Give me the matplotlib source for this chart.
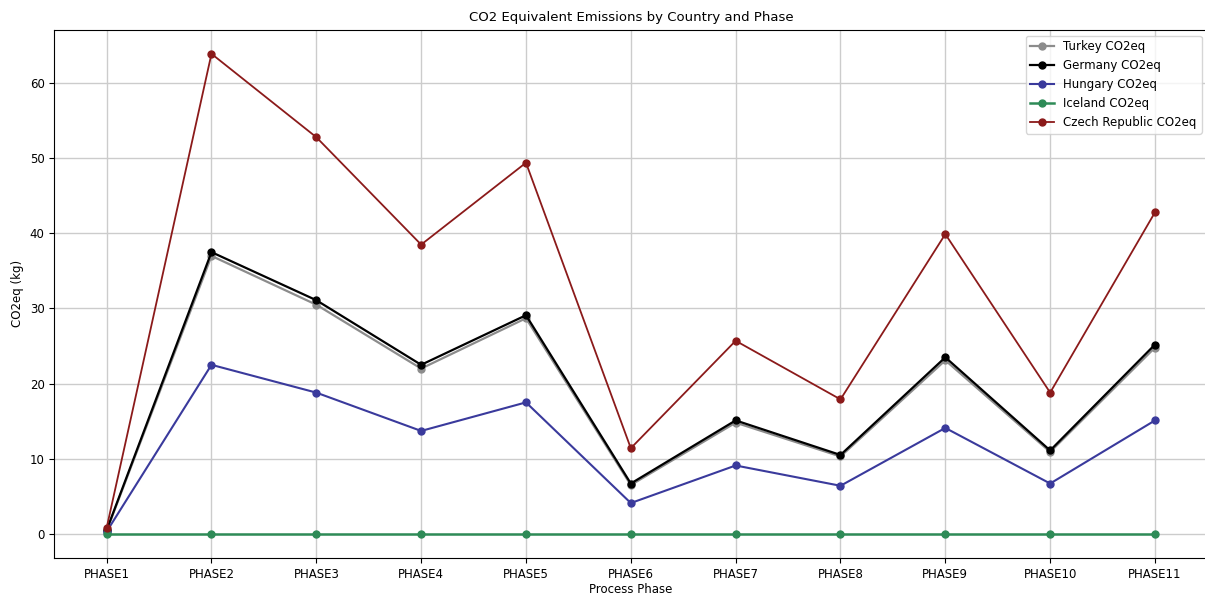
import matplotlib.pyplot as plt

# Data
phases = ['PHASE1', 'PHASE2', 'PHASE3', 'PHASE4', 'PHASE5', 'PHASE6',
          'PHASE7', 'PHASE8', 'PHASE9', 'PHASE10', 'PHASE11']
turkey = [0.4, 37.0, 30.5, 22.0, 28.7, 6.5, 14.8, 10.3, 23.1, 10.9, 24.8]
germany = [0.5, 37.5, 31.1, 22.5, 29.1, 6.7, 15.1, 10.5, 23.5, 11.1, 25.2]
hungary = [0.3, 22.5, 18.8, 13.7, 17.5, 4.1, 9.1, 6.4, 14.1, 6.7, 15.1]
iceland = [0.0, 0.0, 0.0, 0.0, 0.0, 0.0, 0.0, 0.0, 0.0, 0.0, 0.0]
czech = [0.8, 63.9, 52.8, 38.5, 49.4, 11.4, 25.7, 17.9, 39.9, 18.8, 42.8]

fig, ax = plt.subplots(figsize=(12.05, 5.96), dpi=100)

ax.plot(phases, turkey, marker='o', color='#8c8c8c', lw=1.6, ms=5, label='Turkey CO2eq')
ax.plot(phases, germany, marker='o', color='black', lw=1.6, ms=5, label='Germany CO2eq')
ax.plot(phases, hungary, marker='o', color='#3a3a9c', lw=1.5, ms=5, label='Hungary CO2eq')
ax.plot(phases, iceland, marker='o', color='#2e8b57', lw=1.8, ms=5, label='Iceland CO2eq')
ax.plot(phases, czech, marker='o', color='#8b1a1a', lw=1.3, ms=5, label='Czech Republic CO2eq')

ax.set_title('CO2 Equivalent Emissions by Country and Phase', fontsize=9.5)
ax.set_xlabel('Process Phase', fontsize=8.5, labelpad=1.5)
ax.set_ylabel('CO2eq (kg)', fontsize=8.5)
ax.tick_params(labelsize=8.5)
ax.grid(True, color='#cccccc', lw=1)
ax.legend(fontsize=8.5, loc='upper right')

plt.subplots_adjust(left=0.045, right=1.002, top=0.95, bottom=0.064)
plt.savefig('out.png')
